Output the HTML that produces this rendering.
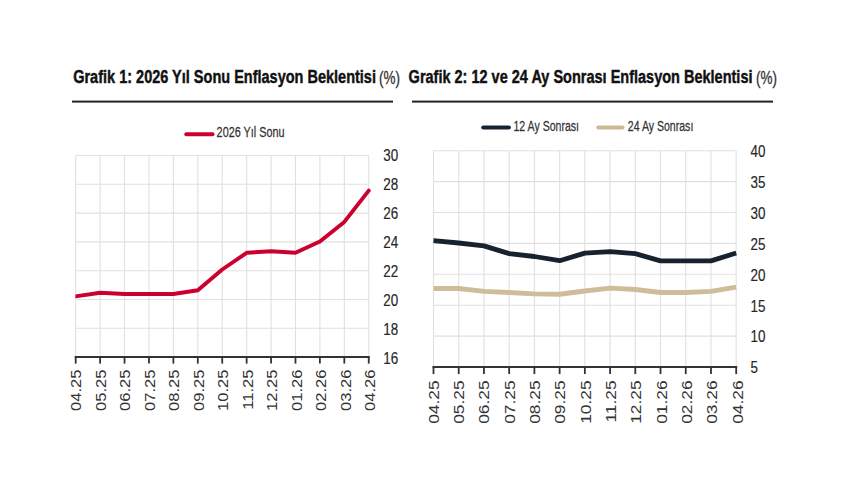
<!DOCTYPE html>
<html><head><meta charset="utf-8"><style>
html,body{margin:0;padding:0;background:#fff;width:860px;height:504px;overflow:hidden}
svg{position:absolute;left:0;top:0}
.g{stroke:#e0e0e0;stroke-width:1.1}
.ax{stroke:#333;stroke-width:2}
.tk{stroke:#333;stroke-width:1.8}
text{font-family:"Liberation Sans", sans-serif;fill:#262626}
.t{font-weight:bold;font-size:19px;fill:#111;stroke:#111;stroke-width:0.45px}
.tp{font-size:18px;fill:#333;stroke:#333;stroke-width:0.3px}
.lg{font-size:14.8px;fill:#333;stroke:#333;stroke-width:0.25px}
.yl{font-size:15.8px;fill:#262626;stroke:#262626;stroke-width:0.15px}
.xl{font-size:14.2px;fill:#333}
.xl2{font-size:14.2px;fill:#333}
</style></head><body>
<svg width="860" height="504" viewBox="0 0 860 504">
<text class="t" transform="translate(73.2,83.3) scale(0.764,1)">Grafik 1: 2026 Yıl Sonu Enflasyon Beklentisi</text>
<text class="tp" transform="translate(379,83.5) scale(0.75,1)">(%)</text>
<rect x="72" y="100.6" width="321" height="2" fill="#222"/>
<text class="t" transform="translate(408.6,83.3) scale(0.764,1)">Grafik 2: 12 ve 24 Ay Sonrası Enflasyon Beklentisi</text>
<text class="tp" transform="translate(756,83.5) scale(0.75,1)">(%)</text>
<rect x="412" y="100.6" width="361" height="2" fill="#222"/>
<line x1="186.3" y1="134.3" x2="212.5" y2="134.3" stroke="#cc0030" stroke-width="4" stroke-linecap="round"/>
<text class="lg" transform="translate(216.6,136.9) scale(0.733,1)">2026 Yıl Sonu</text>
<line x1="483.3" y1="127.5" x2="508.8" y2="127.5" stroke="#17222f" stroke-width="4.2" stroke-linecap="round"/>
<text class="lg" transform="translate(513.5,130.9) scale(0.714,1)">12 Ay Sonrası</text>
<line x1="598.3" y1="127.5" x2="622.5" y2="127.5" stroke="#cbb996" stroke-width="4" stroke-linecap="round"/>
<text class="lg" transform="translate(627.8,130.9) scale(0.714,1)">24 Ay Sonrası</text>
<line x1="75.70" y1="155.5" x2="75.70" y2="357.1" class="g"/>
<line x1="100.12" y1="155.5" x2="100.12" y2="357.1" class="g"/>
<line x1="124.54" y1="155.5" x2="124.54" y2="357.1" class="g"/>
<line x1="148.96" y1="155.5" x2="148.96" y2="357.1" class="g"/>
<line x1="173.38" y1="155.5" x2="173.38" y2="357.1" class="g"/>
<line x1="197.80" y1="155.5" x2="197.80" y2="357.1" class="g"/>
<line x1="222.22" y1="155.5" x2="222.22" y2="357.1" class="g"/>
<line x1="246.64" y1="155.5" x2="246.64" y2="357.1" class="g"/>
<line x1="271.06" y1="155.5" x2="271.06" y2="357.1" class="g"/>
<line x1="295.48" y1="155.5" x2="295.48" y2="357.1" class="g"/>
<line x1="319.90" y1="155.5" x2="319.90" y2="357.1" class="g"/>
<line x1="344.32" y1="155.5" x2="344.32" y2="357.1" class="g"/>
<line x1="368.74" y1="155.5" x2="368.74" y2="357.1" class="g"/>
<line x1="75.7" y1="155.50" x2="368.74" y2="155.50" class="g"/>
<line x1="75.7" y1="184.30" x2="368.74" y2="184.30" class="g"/>
<line x1="75.7" y1="213.10" x2="368.74" y2="213.10" class="g"/>
<line x1="75.7" y1="241.90" x2="368.74" y2="241.90" class="g"/>
<line x1="75.7" y1="270.70" x2="368.74" y2="270.70" class="g"/>
<line x1="75.7" y1="299.50" x2="368.74" y2="299.50" class="g"/>
<line x1="75.7" y1="328.30" x2="368.74" y2="328.30" class="g"/>
<line x1="74.7" y1="357.1" x2="369.74" y2="357.1" class="ax"/>
<line x1="75.70" y1="357.1" x2="75.70" y2="363.6" class="tk"/>
<line x1="100.12" y1="357.1" x2="100.12" y2="363.6" class="tk"/>
<line x1="124.54" y1="357.1" x2="124.54" y2="363.6" class="tk"/>
<line x1="148.96" y1="357.1" x2="148.96" y2="363.6" class="tk"/>
<line x1="173.38" y1="357.1" x2="173.38" y2="363.6" class="tk"/>
<line x1="197.80" y1="357.1" x2="197.80" y2="363.6" class="tk"/>
<line x1="222.22" y1="357.1" x2="222.22" y2="363.6" class="tk"/>
<line x1="246.64" y1="357.1" x2="246.64" y2="363.6" class="tk"/>
<line x1="271.06" y1="357.1" x2="271.06" y2="363.6" class="tk"/>
<line x1="295.48" y1="357.1" x2="295.48" y2="363.6" class="tk"/>
<line x1="319.90" y1="357.1" x2="319.90" y2="363.6" class="tk"/>
<line x1="344.32" y1="357.1" x2="344.32" y2="363.6" class="tk"/>
<line x1="368.74" y1="357.1" x2="368.74" y2="363.6" class="tk"/>
<clipPath id="c1"><rect x="75.4" y="140" width="310" height="230"/></clipPath>
<polyline clip-path="url(#c1)" points="75.70,296.4 100.12,292.7 124.54,294.0 148.96,294.0 173.38,294.0 197.80,290.3 222.22,269.5 246.64,252.8 271.06,251.2 295.48,252.8 319.90,241.6 344.32,221.9 368.74,190.6" fill="none" stroke="#cc0030" stroke-width="3.9" stroke-linejoin="round" stroke-linecap="round"/>
<text class="yl" transform="translate(383.3,161.10) scale(0.85,1)">30</text>
<text class="yl" transform="translate(383.3,190.07) scale(0.85,1)">28</text>
<text class="yl" transform="translate(383.3,219.04) scale(0.85,1)">26</text>
<text class="yl" transform="translate(383.3,248.01) scale(0.85,1)">24</text>
<text class="yl" transform="translate(383.3,276.98) scale(0.85,1)">22</text>
<text class="yl" transform="translate(383.3,305.95) scale(0.85,1)">20</text>
<text class="yl" transform="translate(383.3,334.92) scale(0.85,1)">18</text>
<text class="yl" transform="translate(383.3,363.89) scale(0.85,1)">16</text>
<text class="xl" text-anchor="end" transform="translate(81.20,369.6) rotate(-90) scale(1.165,1.04)">04.25</text>
<text class="xl" text-anchor="end" transform="translate(105.72,369.6) rotate(-90) scale(1.165,1.04)">05.25</text>
<text class="xl" text-anchor="end" transform="translate(130.24,369.6) rotate(-90) scale(1.165,1.04)">06.25</text>
<text class="xl" text-anchor="end" transform="translate(154.76,369.6) rotate(-90) scale(1.165,1.04)">07.25</text>
<text class="xl" text-anchor="end" transform="translate(179.28,369.6) rotate(-90) scale(1.165,1.04)">08.25</text>
<text class="xl" text-anchor="end" transform="translate(203.80,369.6) rotate(-90) scale(1.165,1.04)">09.25</text>
<text class="xl" text-anchor="end" transform="translate(228.32,369.6) rotate(-90) scale(1.165,1.04)">10.25</text>
<text class="xl" text-anchor="end" transform="translate(252.84,369.6) rotate(-90) scale(1.165,1.04)">11.25</text>
<text class="xl" text-anchor="end" transform="translate(277.36,369.6) rotate(-90) scale(1.165,1.04)">12.25</text>
<text class="xl" text-anchor="end" transform="translate(301.88,369.6) rotate(-90) scale(1.165,1.04)">01.26</text>
<text class="xl" text-anchor="end" transform="translate(326.40,369.6) rotate(-90) scale(1.165,1.04)">02.26</text>
<text class="xl" text-anchor="end" transform="translate(350.92,369.6) rotate(-90) scale(1.165,1.04)">03.26</text>
<text class="xl" text-anchor="end" transform="translate(375.44,369.6) rotate(-90) scale(1.165,1.04)">04.26</text>
<line x1="433.50" y1="150.7" x2="433.50" y2="367.1" class="g"/>
<line x1="458.73" y1="150.7" x2="458.73" y2="367.1" class="g"/>
<line x1="483.95" y1="150.7" x2="483.95" y2="367.1" class="g"/>
<line x1="509.18" y1="150.7" x2="509.18" y2="367.1" class="g"/>
<line x1="534.40" y1="150.7" x2="534.40" y2="367.1" class="g"/>
<line x1="559.62" y1="150.7" x2="559.62" y2="367.1" class="g"/>
<line x1="584.85" y1="150.7" x2="584.85" y2="367.1" class="g"/>
<line x1="610.08" y1="150.7" x2="610.08" y2="367.1" class="g"/>
<line x1="635.30" y1="150.7" x2="635.30" y2="367.1" class="g"/>
<line x1="660.52" y1="150.7" x2="660.52" y2="367.1" class="g"/>
<line x1="685.75" y1="150.7" x2="685.75" y2="367.1" class="g"/>
<line x1="710.98" y1="150.7" x2="710.98" y2="367.1" class="g"/>
<line x1="736.20" y1="150.7" x2="736.20" y2="367.1" class="g"/>
<line x1="433.5" y1="150.70" x2="736.20" y2="150.70" class="g"/>
<line x1="433.5" y1="181.60" x2="736.20" y2="181.60" class="g"/>
<line x1="433.5" y1="212.50" x2="736.20" y2="212.50" class="g"/>
<line x1="433.5" y1="243.40" x2="736.20" y2="243.40" class="g"/>
<line x1="433.5" y1="274.30" x2="736.20" y2="274.30" class="g"/>
<line x1="433.5" y1="305.20" x2="736.20" y2="305.20" class="g"/>
<line x1="433.5" y1="336.10" x2="736.20" y2="336.10" class="g"/>
<line x1="432.5" y1="367.1" x2="737.20" y2="367.1" class="ax"/>
<line x1="433.50" y1="367.1" x2="433.50" y2="374.1" class="tk"/>
<line x1="458.73" y1="367.1" x2="458.73" y2="374.1" class="tk"/>
<line x1="483.95" y1="367.1" x2="483.95" y2="374.1" class="tk"/>
<line x1="509.18" y1="367.1" x2="509.18" y2="374.1" class="tk"/>
<line x1="534.40" y1="367.1" x2="534.40" y2="374.1" class="tk"/>
<line x1="559.62" y1="367.1" x2="559.62" y2="374.1" class="tk"/>
<line x1="584.85" y1="367.1" x2="584.85" y2="374.1" class="tk"/>
<line x1="610.08" y1="367.1" x2="610.08" y2="374.1" class="tk"/>
<line x1="635.30" y1="367.1" x2="635.30" y2="374.1" class="tk"/>
<line x1="660.52" y1="367.1" x2="660.52" y2="374.1" class="tk"/>
<line x1="685.75" y1="367.1" x2="685.75" y2="374.1" class="tk"/>
<line x1="710.98" y1="367.1" x2="710.98" y2="374.1" class="tk"/>
<line x1="736.20" y1="367.1" x2="736.20" y2="374.1" class="tk"/>
<polyline points="433.50,288.5 458.73,288.5 483.95,291.4 509.18,292.5 534.40,293.9 559.62,294.25 584.85,291 610.08,288.1 635.30,289.5 660.52,292.5 685.75,292.5 710.98,291.4 736.20,287.2" fill="none" stroke="#cfbc99" stroke-width="4.8" stroke-linejoin="round"/>
<polyline points="433.50,240.7 458.73,243 483.95,245.9 509.18,253.6 534.40,256.5 559.62,260.7 584.85,253.1 610.08,251.7 635.30,253.6 660.52,260.9 685.75,260.9 710.98,260.9 736.20,253.0" fill="none" stroke="#17222f" stroke-width="4.8" stroke-linejoin="round"/>
<text class="yl" transform="translate(750.5,157.00) scale(0.85,1)">40</text>
<text class="yl" transform="translate(750.5,187.90) scale(0.85,1)">35</text>
<text class="yl" transform="translate(750.5,218.80) scale(0.85,1)">30</text>
<text class="yl" transform="translate(750.5,249.70) scale(0.85,1)">25</text>
<text class="yl" transform="translate(750.5,280.60) scale(0.85,1)">20</text>
<text class="yl" transform="translate(750.5,311.50) scale(0.85,1)">15</text>
<text class="yl" transform="translate(750.5,342.40) scale(0.85,1)">10</text>
<text class="yl" transform="translate(750.5,373.30) scale(0.85,1)">5</text>
<text class="xl2" text-anchor="end" transform="translate(438.70,380.3) rotate(-90) scale(1.225,1.04)">04.25</text>
<text class="xl2" text-anchor="end" transform="translate(464.03,380.3) rotate(-90) scale(1.225,1.04)">05.25</text>
<text class="xl2" text-anchor="end" transform="translate(489.35,380.3) rotate(-90) scale(1.225,1.04)">06.25</text>
<text class="xl2" text-anchor="end" transform="translate(514.67,380.3) rotate(-90) scale(1.225,1.04)">07.25</text>
<text class="xl2" text-anchor="end" transform="translate(540.00,380.3) rotate(-90) scale(1.225,1.04)">08.25</text>
<text class="xl2" text-anchor="end" transform="translate(565.33,380.3) rotate(-90) scale(1.225,1.04)">09.25</text>
<text class="xl2" text-anchor="end" transform="translate(590.65,380.3) rotate(-90) scale(1.225,1.04)">10.25</text>
<text class="xl2" text-anchor="end" transform="translate(615.98,380.3) rotate(-90) scale(1.225,1.04)">11.25</text>
<text class="xl2" text-anchor="end" transform="translate(641.30,380.3) rotate(-90) scale(1.225,1.04)">12.25</text>
<text class="xl2" text-anchor="end" transform="translate(666.62,380.3) rotate(-90) scale(1.225,1.04)">01.26</text>
<text class="xl2" text-anchor="end" transform="translate(691.95,380.3) rotate(-90) scale(1.225,1.04)">02.26</text>
<text class="xl2" text-anchor="end" transform="translate(717.28,380.3) rotate(-90) scale(1.225,1.04)">03.26</text>
<text class="xl2" text-anchor="end" transform="translate(742.60,380.3) rotate(-90) scale(1.225,1.04)">04.26</text>
</svg>
</body></html>
